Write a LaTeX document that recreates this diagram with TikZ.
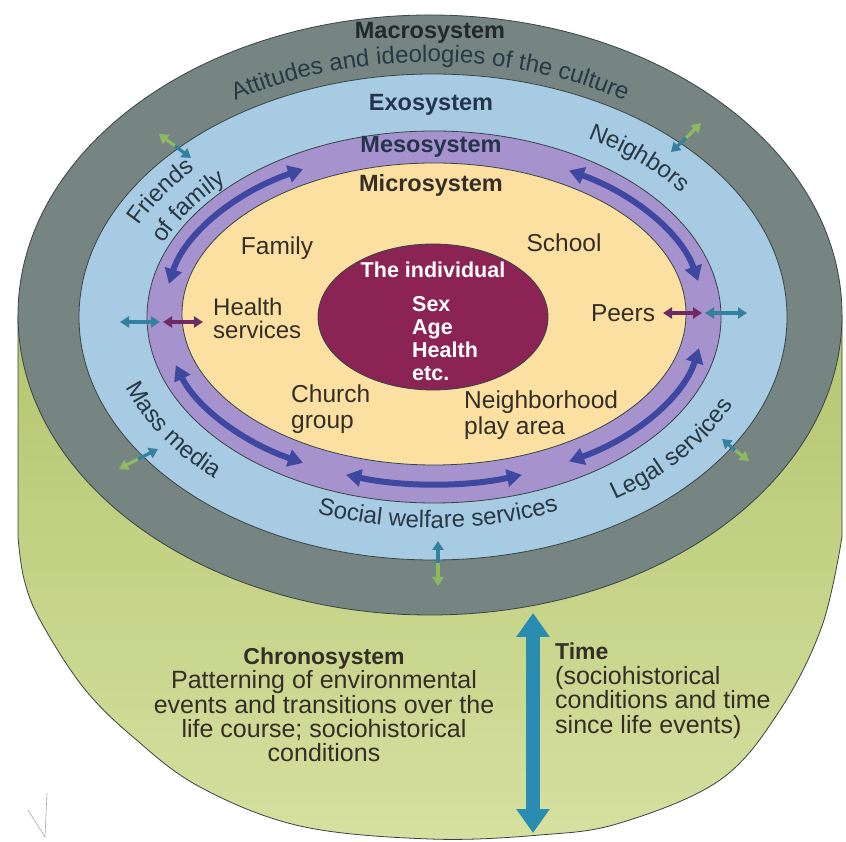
\documentclass[tikz,border=0pt]{standalone}
\usepackage{fontspec}
\setmainfont{Liberation Sans}
\usepackage{tikz}
\usetikzlibrary{arrows.meta}
\usetikzlibrary{decorations.text}

\definecolor{macro}{RGB}{118,133,129}
\definecolor{exo}{RGB}{166,203,227}
\definecolor{meso}{RGB}{166,146,205}
\definecolor{micro}{RGB}{251,224,162}
\definecolor{indiv}{RGB}{139,35,85}
\definecolor{chronoA}{RGB}{180,197,110}
\definecolor{chronoB}{RGB}{214,224,160}
\definecolor{mesoarrow}{RGB}{62,72,160}
\definecolor{timearrow}{RGB}{42,140,176}
\definecolor{tealarr}{RGB}{52,128,158}
\definecolor{greenarr}{RGB}{140,185,98}
\definecolor{purparr}{RGB}{110,42,100}
\definecolor{outline}{RGB}{55,68,68}
\definecolor{txt}{RGB}{52,46,38}
\definecolor{bandtxt}{RGB}{40,56,68}
\definecolor{headtxt}{RGB}{35,52,75}

\begin{document}
\begin{tikzpicture}[x=1pt, y=1pt,
        ring/.style={draw=outline, line width=0.8pt},
        lbl/.style={inner sep=0pt, text=txt, font=\fontsize{24.5}{26}\selectfont},
        hd/.style={inner sep=0pt, font=\fontsize{23.5}{24}\selectfont\bfseries},
        inner/.style={inner sep=0pt, text=white, align=left,
                      font=\fontsize{21.5}{23}\selectfont\bfseries},
        mesoarr/.style={mesoarrow, line width=6pt,
                        {Triangle[length=15pt,width=17pt]}-{Triangle[length=15pt,width=17pt]}},
        small/.style={line width=3.5pt,
                      {Triangle[length=9pt,width=11pt]}-{Triangle[length=9pt,width=11pt]}},
        half/.style={line width=3.2pt, -{Triangle[length=9pt,width=11pt]}},
        timearr/.style={timearrow, line width=14pt,
                        {Triangle[length=24pt,width=32pt]}-{Triangle[length=24pt,width=32pt]}},
        along/.style={decorate, decoration={text along path, text align=center,
                      text={|\fontsize{24}{24}\selectfont\color{bandtxt}|#1}}},
        pencil/.style={draw=gray!70, line width=0.6pt}
                            ]
        \useasboundingbox (0,0) rectangle (846,841);
        % cylinder (chronosystem)
        \shade[top color=chronoA, bottom color=chronoB] (18,526) -- (18,304)
            -- plot[smooth, tension=0.6] coordinates {(18,304) (24,262) (40,221) (83,154) (133,104)
               (200,54) (300,15) (430,2) (540,6) (620,18) (720,61) (780,131) (822,215) (842,304)}
            -- (842,526) -- cycle;
        \draw[ring] (18,526) -- (18,304)
            -- plot[smooth, tension=0.6] coordinates {(18,304) (24,262) (40,221) (83,154) (133,104)
               (200,54) (300,15) (430,2) (540,6) (620,18) (720,61) (780,131) (822,215) (842,304)}
            -- (842,526);
        % rings
        \draw[ring, fill=macro] (430,526) ellipse [x radius=412, y radius=300];
        \draw[ring, fill=exo] (433,524) ellipse [x radius=354, y radius=243];
        \draw[ring, fill=meso] (434,524) ellipse [x radius=287, y radius=186];
        \draw[ring, fill=micro] (434,527) ellipse [x radius=252, y radius=151];
        \draw[ring, fill=indiv] (433,524) ellipse [x radius=115, y radius=73];
        % mesosystem arrows
        \draw[mesoarr] (434,525) ++(119:270 and 168) arc[start angle=119, end angle=169, x radius=270, y radius=168];
        \draw[mesoarr] (434,525) ++(60:270 and 168) arc[start angle=60, end angle=12, x radius=270, y radius=168];
        \draw[mesoarr] (434,525) ++(197:270 and 168) arc[start angle=197, end angle=241, x radius=270, y radius=168];
        \draw[mesoarr] (434,525) ++(251:270 and 168) arc[start angle=251, end angle=289, x radius=270, y radius=168];
        \draw[mesoarr] (434,525) ++(300:270 and 168) arc[start angle=300, end angle=349, x radius=270, y radius=168];
        % headings
        \node[hd, text=outline!60!black] (macro) at (430,808) {Macrosystem};
        \node[hd, text=headtxt] (exo) at (431,736) {Exosystem};
        \node[hd, text=headtxt] (meso) at (431,694) {Mesosystem};
        \node[hd, text=txt] (micro) at (431,656) {Microsystem};
        % curved labels
        \path[along={Attitudes and ideologies of the culture}] (430,526) ++(130:365 and 253) arc[start angle=130, end angle=50, x radius=365, y radius=253];
        \path[along={Friends}] (433,524) ++(173:324 and 217) arc[start angle=173, end angle=123, x radius=324, y radius=217];
        \path[along={of family}] (433,524) ++(173:292 and 191) arc[start angle=173, end angle=123, x radius=292, y radius=191];
        \path[along={Neighbors}] (433,524) ++(72:311 and 206) arc[start angle=72, end angle=22, x radius=311, y radius=206];
        \path[along={Mass media}] (433,524) ++(187:325 and 218) arc[start angle=187, end angle=237, x radius=325, y radius=218];
        \path[along={Social welfare services}] (433,524) ++(236:317 and 211) arc[start angle=236, end angle=306, x radius=317, y radius=211];
        \path[along={Legal services}] (433,524) ++(290:327 and 220) arc[start angle=290, end angle=355, x radius=327, y radius=220];
        % microsystem
        \node[lbl] (family) at (277,593) {Family};
        \node[lbl] (school) at (564,598) {School};
        \node[lbl, anchor=west, align=left, font=\fontsize{24}{23}\selectfont] (health) at (213,523) {Health\\services};
        \node[lbl] (peers) at (623,528) {Peers};
        \node[lbl, anchor=west, align=left] (church) at (291,432) {Church\\group};
        \node[lbl, anchor=west, align=left] (hood) at (464,426) {Neighborhood\\play area};
        % the individual
        \node[inner] (indiv) at (433,571) {The individual};
        \node[inner, anchor=west] (traits) at (412,502) {Sex\\Age\\Health\\etc.};
        % links across the rings
        \coordinate (hl1) at (120,519); \coordinate (hl2) at (160,519);
        \coordinate (hl3) at (163,519); \coordinate (hl4) at (203,519);
        \draw[small, tealarr] (hl1) -- (hl2);
        \draw[small, purparr] (hl3) -- (hl4);
        \coordinate (pr1) at (663,528); \coordinate (pr2) at (702,528);
        \coordinate (pr3) at (705,528); \coordinate (pr4) at (747,528);
        \draw[small, purparr] (pr1) -- (pr2);
        \draw[small, tealarr] (pr3) -- (pr4);
        \coordinate (ff m) at (175,695); \coordinate (ff g) at (159,707); \coordinate (ff t) at (191,683);
        \draw[half, greenarr] (ff m) -- (ff g);
        \draw[half, tealarr] (ff m) -- (ff t);
        \coordinate (nb m) at (686,703); \coordinate (nb g) at (701,718); \coordinate (nb t) at (671,689);
        \draw[half, greenarr] (nb m) -- (nb g);
        \draw[half, tealarr] (nb m) -- (nb t);
        \coordinate (mm m) at (138,382); \coordinate (mm g) at (119,372); \coordinate (mm t) at (158,392);
        \draw[half, greenarr] (mm m) -- (mm g);
        \draw[half, tealarr] (mm m) -- (mm t);
        \coordinate (ls m) at (735,391); \coordinate (ls g) at (749,380); \coordinate (ls t) at (722,402);
        \draw[half, greenarr] (ls m) -- (ls g);
        \draw[half, tealarr] (ls m) -- (ls t);
        \coordinate (sw m) at (438,278); \coordinate (sw g) at (438,255); \coordinate (sw t) at (438,300);
        \draw[half, greenarr] (sw m) -- (sw g);
        \draw[half, tealarr] (sw m) -- (sw t);
        % chronosystem
        \coordinate (tm top) at (533,228); \coordinate (tm bot) at (533,8);
        \draw[timearr] (tm top) -- (tm bot);
        \node[lbl, align=center, font=\fontsize{25}{24.3}\selectfont] (chrono) at (324,136)
            {{\fontsize{23}{24.3}\selectfont\bfseries Chronosystem}\\Patterning of environmental\\events and transitions over the\\life course; sociohistorical\\conditions};
        \node[lbl, anchor=west, align=left, font=\fontsize{25}{24.5}\selectfont] (time) at (555,150)
            {{\fontsize{23}{24.5}\selectfont\bfseries Time}\\(sociohistorical\\conditions and time\\since life events)};
        % tick
        \draw[pencil] (28,31) -- (45,4) -- (47,48);
    \end{tikzpicture}
\end{document}
